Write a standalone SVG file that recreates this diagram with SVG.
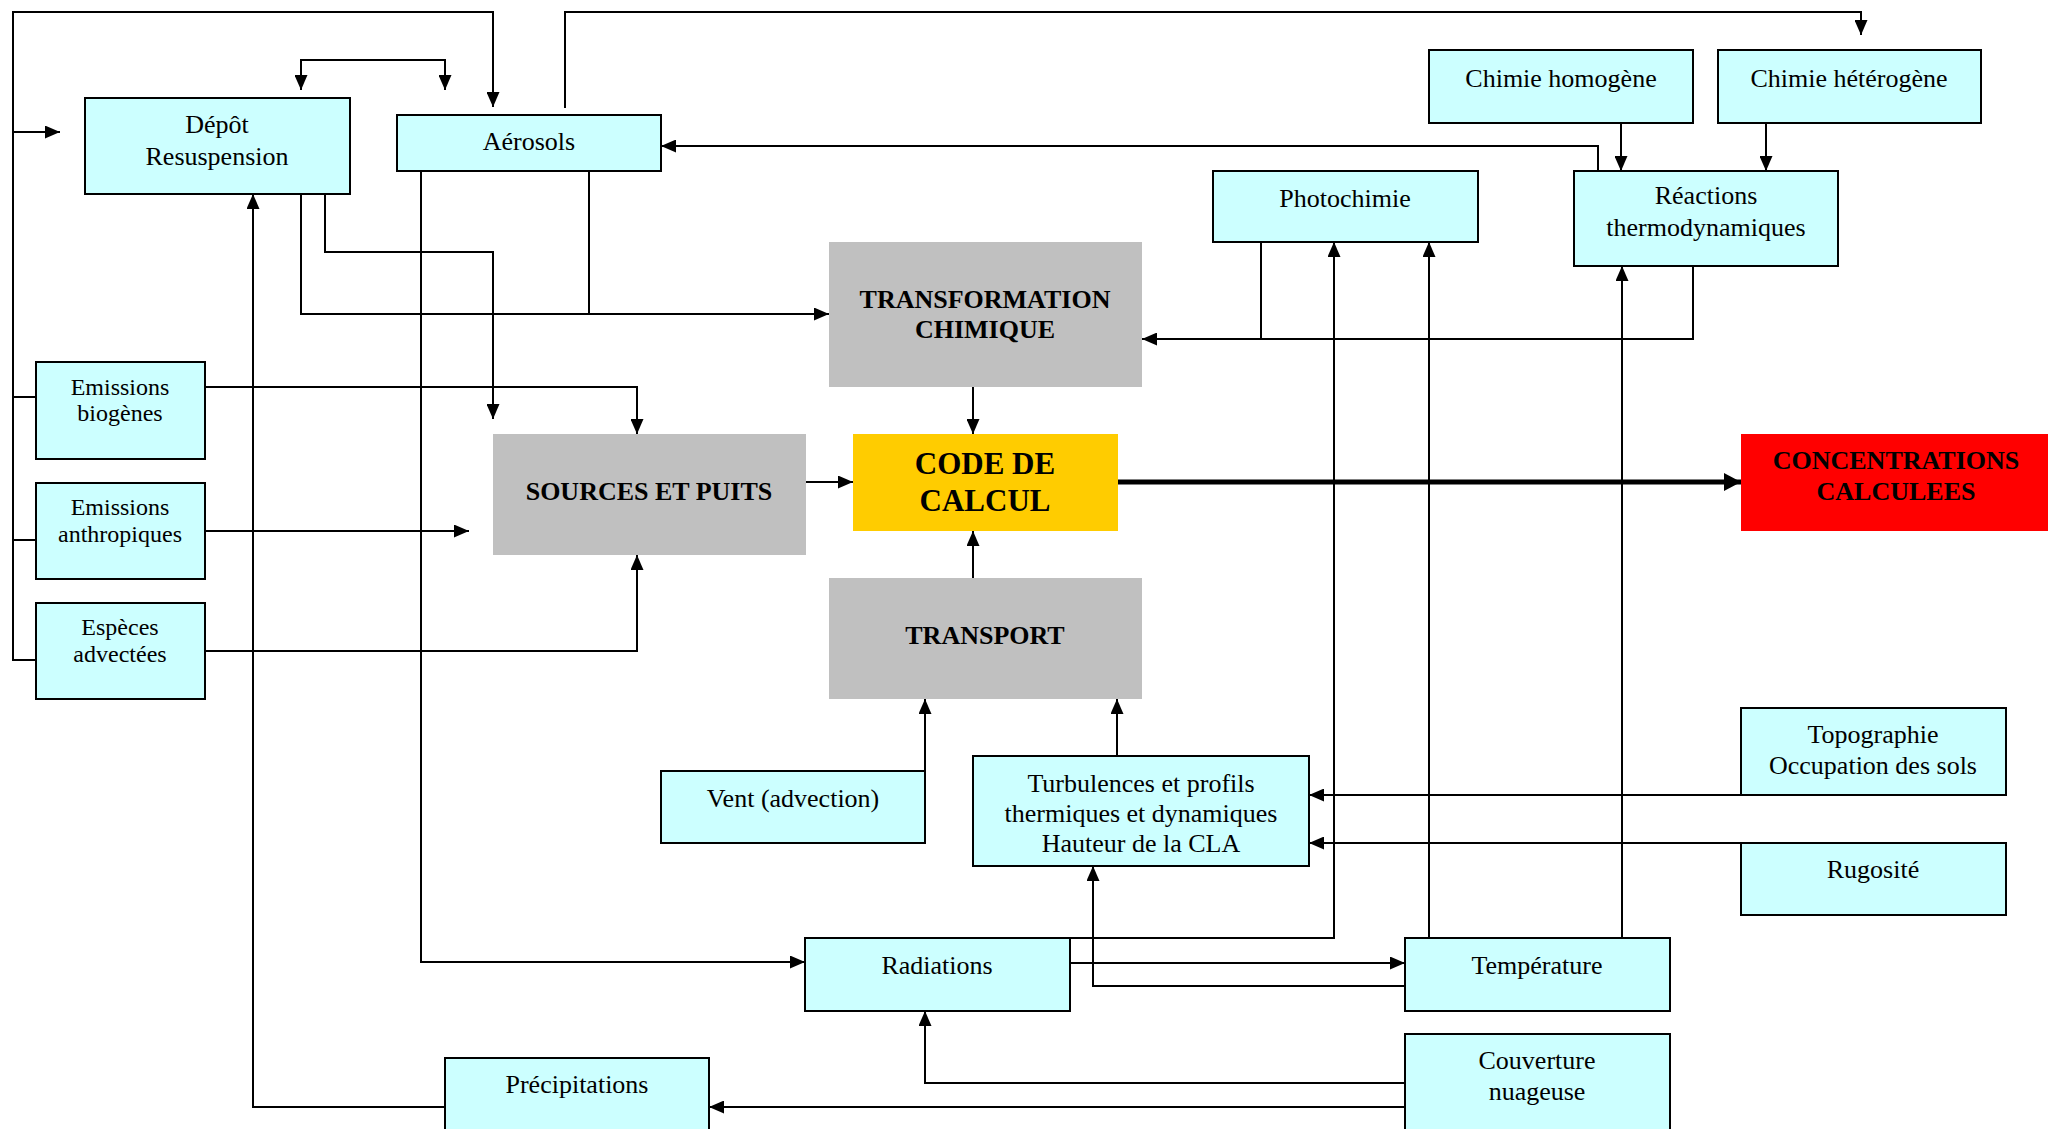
<svg xmlns="http://www.w3.org/2000/svg" width="2048" height="1129" viewBox="0 0 2048 1129">
<style>
.c{fill:#CCFFFF;stroke:#000;stroke-width:2}
.g{fill:#C0C0C0}
.t{font-family:"Liberation Serif","Times New Roman",serif;font-size:26px;fill:#000;text-anchor:middle}
.s{font-size:24px}
.b{font-weight:bold}
.k{font-size:31px}
.ln{fill:none;stroke:#000;stroke-width:2}
.ar{marker-end:url(#a)}
</style>
<defs>
<marker id="a" markerUnits="userSpaceOnUse" markerWidth="16" markerHeight="13" refX="15" refY="6.5" orient="auto-start-reverse" viewBox="0 0 16 13">
<path d="M0,0 L15,6.5 L0,13 z" fill="#000"/>
</marker>
<marker id="A" markerUnits="userSpaceOnUse" markerWidth="18" markerHeight="18" refX="17" refY="9" orient="auto" viewBox="0 0 18 18">
<path d="M0,0 L17,9 L0,18 z" fill="#000"/>
</marker>
</defs>
<rect width="2048" height="1129" fill="#fff"/>

<g id="connectors">
<path class="ln ar" d="M36,660 H13 V12 H493 V107"/>
<path class="ln" d="M13,397 H36 M13,540 H36"/>
<path class="ln ar" d="M13,132 H60"/>
<path class="ln ar" d="M565,108 V12 H1861 V35"/>
<path class="ln ar" style="marker-start:url(#a)" d="M301,90 V60 H445 V90"/>
<path class="ln ar" d="M1598,171 V146 H661"/>
<path class="ln ar" d="M1621,123 V171"/>
<path class="ln ar" d="M1766,123 V171"/>
<path class="ln" d="M1261,242 V339"/>
<path class="ln ar" d="M1693,266 V339 H1142"/>
<path class="ln" d="M589,171 V314"/>
<path class="ln ar" d="M301,194 V314 H829"/>
<path class="ln ar" d="M325,194 V252 H493 V419"/>
<path class="ln ar" d="M205,387 H637 V434"/>
<path class="ln ar" d="M205,531 H469"/>
<path class="ln ar" d="M205,651 H637 V555"/>
<path class="ln ar" d="M806,482 H853"/>
<path class="ln ar" d="M973,387 V434"/>
<path class="ln ar" d="M973,578 V531"/>
<path d="M1118,482 H1741" fill="none" stroke="#000" stroke-width="5" marker-end="url(#A)"/>
<path class="ln ar" d="M925,771 V699"/>
<path class="ln ar" d="M1117,756 V699"/>
<path class="ln ar" d="M1741,795 H1309"/>
<path class="ln ar" d="M1741,843 H1309"/>
<path class="ln ar" d="M421,171 V962 H805"/>
<path class="ln ar" d="M445,1107 H253 V194"/>
<path class="ln ar" d="M1070,938 H1334 V242"/>
<path class="ln ar" d="M1070,963 H1405"/>
<path class="ln ar" d="M1405,986 H1093 V866"/>
<path class="ln ar" d="M1429,938 V242"/>
<path class="ln ar" d="M1622,938 V266"/>
<path class="ln ar" d="M1405,1083 H925 V1011"/>
<path class="ln ar" d="M1405,1107 H709"/>
</g>

<g id="depot"><rect class="c" x="85" y="98" width="265" height="96"/><text class="t" x="217" y="133">Dépôt</text><text class="t" x="217" y="165">Resuspension</text></g>
<g id="aerosols"><rect class="c" x="397" y="115" width="264" height="56"/><text class="t" x="529" y="150">Aérosols</text></g>
<g id="chimie-homogene"><rect class="c" x="1429" y="50" width="264" height="73"/><text class="t" x="1561" y="87">Chimie homogène</text></g>
<g id="chimie-heterogene"><rect class="c" x="1718" y="50" width="263" height="73"/><text class="t" x="1849" y="87">Chimie hétérogène</text></g>
<g id="photochimie"><rect class="c" x="1213" y="171" width="265" height="71"/><text class="t" x="1345" y="207">Photochimie</text></g>
<g id="reactions"><rect class="c" x="1574" y="171" width="264" height="95"/><text class="t" x="1706" y="204">Réactions</text><text class="t" x="1706" y="236">thermodynamiques</text></g>
<g id="transformation"><rect class="g" x="829" y="242" width="313" height="145"/><text class="t b" x="985" y="308">TRANSFORMATION</text><text class="t b" x="985" y="338">CHIMIQUE</text></g>
<g id="emissions-biogenes"><rect class="c" x="36" y="362" width="169" height="97"/><text class="t s" x="120" y="395">Emissions</text><text class="t s" x="120" y="421">biogènes</text></g>
<g id="emissions-anthropiques"><rect class="c" x="36" y="483" width="169" height="96"/><text class="t s" x="120" y="515">Emissions</text><text class="t s" x="120" y="542">anthropiques</text></g>
<g id="especes-advectees"><rect class="c" x="36" y="603" width="169" height="96"/><text class="t s" x="120" y="635">Espèces</text><text class="t s" x="120" y="662">advectées</text></g>
<g id="sources"><rect class="g" x="493" y="434" width="313" height="121"/><text class="t b" x="649" y="500">SOURCES ET PUITS</text></g>
<g id="code"><rect x="853" y="434" width="265" height="97" fill="#FFCC00"/><text class="t b k" x="985" y="474">CODE DE</text><text class="t b k" x="985" y="511">CALCUL</text></g>
<g id="transport"><rect class="g" x="829" y="578" width="313" height="121"/><text class="t b" x="985" y="644">TRANSPORT</text></g>
<g id="concentrations"><rect x="1741" y="434" width="307" height="97" fill="#FF0000"/><text class="t b" x="1896" y="469">CONCENTRATIONS</text><text class="t b" x="1896" y="500">CALCULEES</text></g>
<g id="vent"><rect class="c" x="661" y="771" width="264" height="72"/><text class="t" x="793" y="807">Vent (advection)</text></g>
<g id="turbulences"><rect class="c" x="973" y="756" width="336" height="110"/><text class="t" x="1141" y="792">Turbulences et profils</text><text class="t" x="1141" y="822">thermiques et dynamiques</text><text class="t" x="1141" y="852">Hauteur de la CLA</text></g>
<g id="topographie"><rect class="c" x="1741" y="708" width="265" height="87"/><text class="t" x="1873" y="743">Topographie</text><text class="t" x="1873" y="774">Occupation des sols</text></g>
<g id="rugosite"><rect class="c" x="1741" y="843" width="265" height="72"/><text class="t" x="1873" y="878">Rugosité</text></g>
<g id="radiations"><rect class="c" x="805" y="938" width="265" height="73"/><text class="t" x="937" y="974">Radiations</text></g>
<g id="temperature"><rect class="c" x="1405" y="938" width="265" height="73"/><text class="t" x="1537" y="974">Température</text></g>
<g id="precipitations"><rect class="c" x="445" y="1058" width="264" height="90"/><text class="t" x="577" y="1093">Précipitations</text></g>
<g id="couverture"><rect class="c" x="1405" y="1034" width="265" height="110"/><text class="t" x="1537" y="1069">Couverture</text><text class="t" x="1537" y="1100">nuageuse</text></g>
</svg>
